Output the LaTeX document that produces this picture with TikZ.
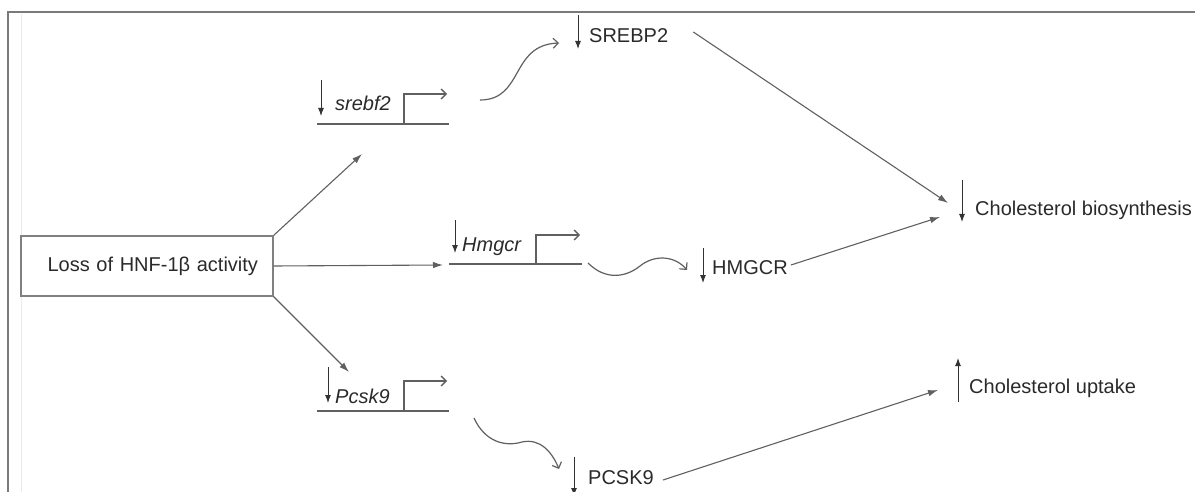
\documentclass[tikz,border=0pt]{standalone}
\usepackage{fontspec}
\setmainfont{Liberation Sans}
\usetikzlibrary{arrows.meta}
\definecolor{txt}{HTML}{2a2a2a}
\definecolor{ln}{HTML}{606060}
\definecolor{frm}{HTML}{7a7a7a}
\begin{document}
\begin{tikzpicture}[x=1pt,y=-1pt,
  lbl/.style={text=txt,font=\fontsize{20}{24}\selectfont,inner sep=0pt,anchor=west},
  gene/.style={text=txt,font=\fontsize{20}{24}\selectfont\itshape,inner sep=0pt,anchor=west},
  conn/.style={draw=ln,line width=1.1pt,-{Latex[length=10pt,width=6.5pt]}},
  ind/.style={draw=black!80,line width=1pt,-{Latex[length=8pt,width=6pt]}},
  wavy/.style={draw=ln,line width=1.2pt,-{Straight Barb[length=5pt,width=10pt]}},
  dna/.style={draw=ln,line width=1.6pt},
  prom/.style={draw=ln,line width=1.3pt,-{Straight Barb[length=5pt,width=10pt]}}]
\useasboundingbox (0,0) rectangle (1203,492);
% frame
\draw[frm,line width=1.6pt] (8,492) -- (8,12) -- (1195,12);
\draw[black!8,line width=0.8pt] (21,14) -- (21,492);

% source box
\node[draw=ln!80,line width=1.1pt,minimum width=252pt,minimum height=60pt,
      text width=222pt,inner xsep=15pt,align=right,text=txt,
      font=\fontsize{20}{24}\selectfont] (loss) at (147,266) {Loss of HNF-1β activity};

% genes
\node[gene] (srebf) at (335,103) {srebf2};
\node[gene] (hmgcr) at (462,247) {Hmgcr};
\node[gene] (pcsk) at (335,396) {Pcsk9};

\coordinate (sA) at (317,124); \coordinate (sB) at (449,124); \coordinate (sP) at (404,124);
\coordinate (hA) at (449,264); \coordinate (hB) at (582,264); \coordinate (hP) at (536,264);
\coordinate (pA) at (317,411); \coordinate (pB) at (449,411); \coordinate (pP) at (404,411);
\draw[dna] (sA) -- (sB);
\draw[dna] (hA) -- (hB);
\draw[dna] (pA) -- (pB);
\draw[prom] (sP) -- (404,94) -- (447,94);
\draw[prom] (hP) -- (536,235) -- (580,235);
\draw[prom] (pP) -- (404,381) -- (447,381);

% products and outcomes
\node[lbl] (srebp) at (589,36) {SREBP2};
\node[lbl] (hmgcrp) at (712,268) {HMGCR};
\node[lbl] (pcskp) at (588,478) {PCSK9};
\node[lbl] (chol) at (975,210) {Cholesterol biosynthesis};
\node[lbl] (upt) at (969,388) {Cholesterol uptake};

% up/down indicators
\draw[ind] (321,80) -- (321,116);
\draw[ind] (455,220) -- (455,253);
\draw[ind] (328,367) -- (328,403);
\draw[ind] (578,15) -- (578,49);
\draw[ind] (703,248) -- (703,283);
\draw[ind] (574,457) -- (574,496);
\draw[ind] (962,180) -- (962,222);
\draw[ind] (958,402) -- (958,358);

% connectors from the box
\coordinate (t1) at (362,154);
\coordinate (t2) at (443,265);
\coordinate (t3) at (349,372);
\draw[conn] (loss.north east) -- (t1);
\draw[conn] (loss.east) -- (t2);
\draw[conn] (loss.south east) -- (t3);

% translation curves
\coordinate (w1s) at (480,100); \coordinate (w1e) at (559,43);
\coordinate (w2s) at (588,263); \coordinate (w2e) at (687,270);
\coordinate (w3s) at (474,418); \coordinate (w3e) at (559,469);
\draw[wavy] (w1s) .. controls (524,100) and (510,45) .. (w1e);
\draw[wavy] (w2s) .. controls (605,280) and (625,278) .. (640,266) .. controls (655,254) and (675,256) .. (w2e);
\draw[wavy] (w3s) .. controls (485,442) and (505,447) .. (522,442) .. controls (540,438) and (552,452) .. (w3e);

% outcome connectors
\draw[conn] ([xshift=25pt,yshift=4pt]srebp.east) -- ([xshift=-27pt,yshift=7pt]chol.west);
\draw[conn] ([xshift=3pt,yshift=3pt]hmgcrp.east) -- ([xshift=-35pt,yshift=-7pt]chol.west);
\draw[conn] ([xshift=9pt,yshift=-2pt]pcskp.east) -- ([xshift=-31pt,yshift=-2pt]upt.west);
\end{tikzpicture}
\end{document}
